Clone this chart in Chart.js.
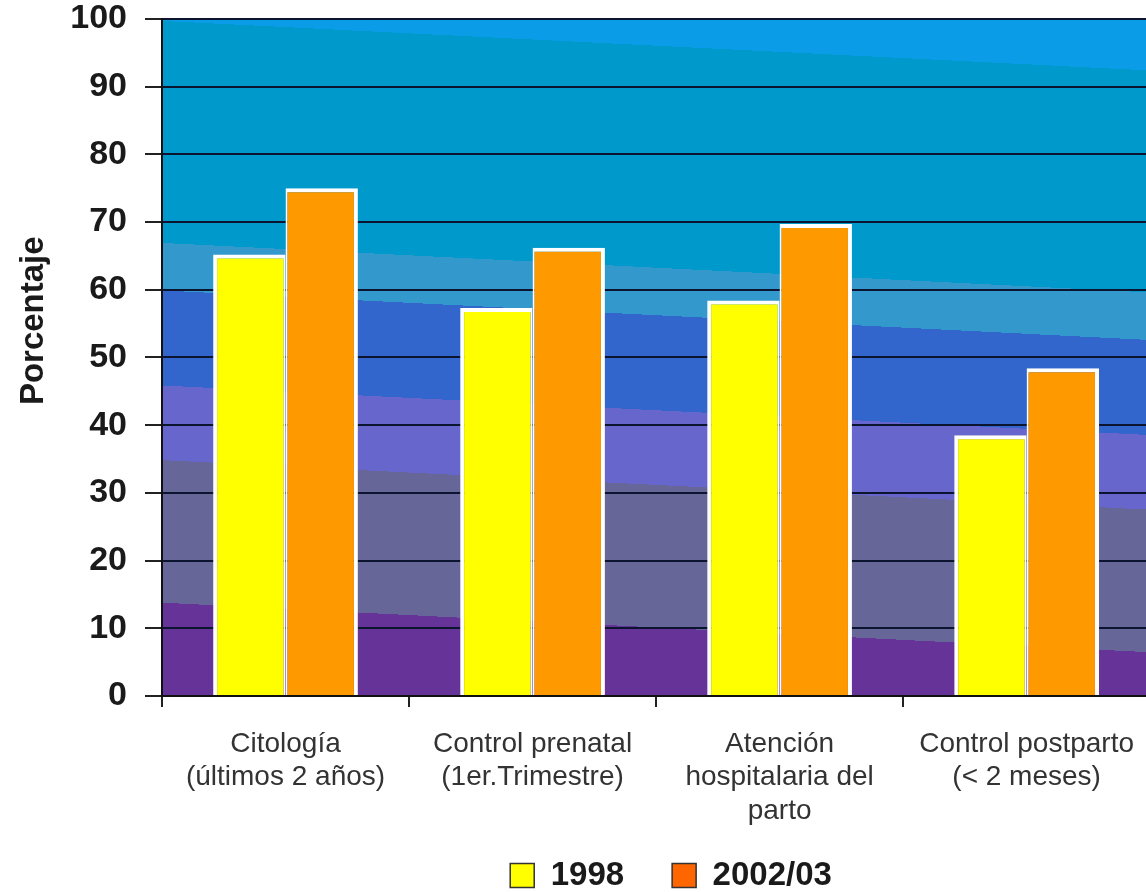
<!DOCTYPE html>
<html lang="es">
<head>
  <meta charset="UTF-8">
  <title>Porcentaje por indicador, 1998 y 2002/03</title>
  <script src="https://cdn.jsdelivr.net/npm/chart.js"></script>
  <style>
    html, body { margin: 0; padding: 0; background: #fff; overflow: hidden; }
    #wrap { width: 1154px; height: 892px; }
  </style>
</head>
<body>

<div id="wrap"><canvas id="chart" width="1154" height="892"></canvas></div>

<script>
// data
const categories = [
  ['Citología', '(últimos 2 años)'],
  ['Control prenatal', '(1er.Trimestre)'],
  ['Atención', 'hospitalaria del', 'parto'],
  ['Control postparto', '(< 2 meses)']
];
const seriesNames = ['1998', '2002/03'];
const values1998 = [65.2, 57.3, 58.4, 38.5];
const values2002 = [75, 66.2, 69.7, 48.4];
const yMin = 0, yMax = 100, yStep = 10;

// colours
const barColors = ['#ffff00', '#ff9900'];
const legendColors = ['#ffff00', '#ff6600'];
const bandStops = [
  [0.00, '#0a9ce6'], [0.003, '#0a9ce6'],
  [0.003, '#0099cc'], [0.33, '#0099cc'],
  [0.33, '#3399cc'], [0.40, '#3399cc'],
  [0.40, '#3366cc'], [0.54, '#3366cc'],
  [0.54, '#6666cc'], [0.65, '#6666cc'],
  [0.65, '#666699'], [0.86, '#666699'],
  [0.86, '#663399'], [1.00, '#663399']
];
const FONT = 'Arial, "Liberation Sans", sans-serif';

// plot background: banded blue-to-purple gradient, tilted a little
const bandBackground = {
  id: 'bandBackground',
  beforeDraw(chart) {
    const { ctx, chartArea: a } = chart;
    const g = ctx.createLinearGradient(a.left, a.top, a.left - 34, a.bottom);
    bandStops.forEach(([p, c]) => g.addColorStop(p, c));
    ctx.save();
    ctx.fillStyle = g;
    ctx.fillRect(a.left, a.top, a.right - a.left, a.bottom - a.top);
    ctx.restore();
  }
};

// let the 3-line category label run below the axis box, nudge legend right
const layoutTweaks = {
  id: 'layoutTweaks',
  afterLayout(chart) {
    chart.scales.x.bottom = chart.height;
    chart.legend.left += 15;
    chart.legend.right += 15;
  }
};

const ctx = document.getElementById('chart').getContext('2d');
new Chart(ctx, {
  type: 'bar',
  data: {
    labels: categories,
    datasets: [
      {
        label: seriesNames[0], data: values1998, backgroundColor: barColors[0],
        borderColor: '#ffffff', borderWidth: { top: 4, left: 4, right: 2, bottom: 0 }, borderSkipped: false
      },
      {
        label: seriesNames[1], data: values2002, backgroundColor: barColors[1],
        borderColor: '#ffffff', borderWidth: { top: 4, left: 2, right: 4, bottom: 0 }, borderSkipped: false
      }
    ]
  },
  options: {
    responsive: false,
    animation: false,
    layout: { padding: { top: 0, right: 0, left: 0, bottom: -10 } },
    datasets: { bar: { categoryPercentage: 0.586, barPercentage: 1.0 } },
    plugins: {
      tooltip: { enabled: false },
      legend: {
        position: 'bottom',
        fullSize: false,
        labels: {
          font: { family: FONT, size: 33, weight: 'bold' },
          color: '#1a1a1a',
          boxWidth: 24,
          boxHeight: 24,
          padding: 48,
          generateLabels: chart => chart.data.datasets.map((ds, i) => ({
            text: ds.label,
            fillStyle: legendColors[i],
            strokeStyle: '#333333',
            lineWidth: 1.5,
            fontColor: '#1a1a1a',
            datasetIndex: i,
            hidden: false
          }))
        }
      }
    },
    scales: {
      x: {
        afterFit: s => { s.height = 115; },
        grid: { display: true, drawOnChartArea: false, color: '#222', tickLength: 11, lineWidth: 2 },
        border: { display: true, color: '#111', width: 2 },
        ticks: {
          color: '#333',
          font: { family: FONT, size: 28 },
          padding: 20,
          maxRotation: 0,
          autoSkip: false
        }
      },
      y: {
        min: yMin,
        max: yMax,
        afterFit: s => { s.width = 162; },
        grid: { color: '#0b1530', lineWidth: 2, tickLength: 17, tickColor: '#222' },
        border: { display: true, color: '#111', width: 2 },
        ticks: {
          stepSize: yStep,
          color: '#1a1a1a',
          padding: 18,
          font: { family: FONT, size: 34, weight: 'bold', lineHeight: 0.05 }
        },
        title: {
          display: true,
          text: '        Porcentaje',
          color: '#1a1a1a',
          padding: { top: 14, bottom: 0 },
          font: { family: FONT, size: 33, weight: 'bold' }
        }
      }
    }
  },
  plugins: [bandBackground, layoutTweaks]
});
</script>

</body>
</html>
